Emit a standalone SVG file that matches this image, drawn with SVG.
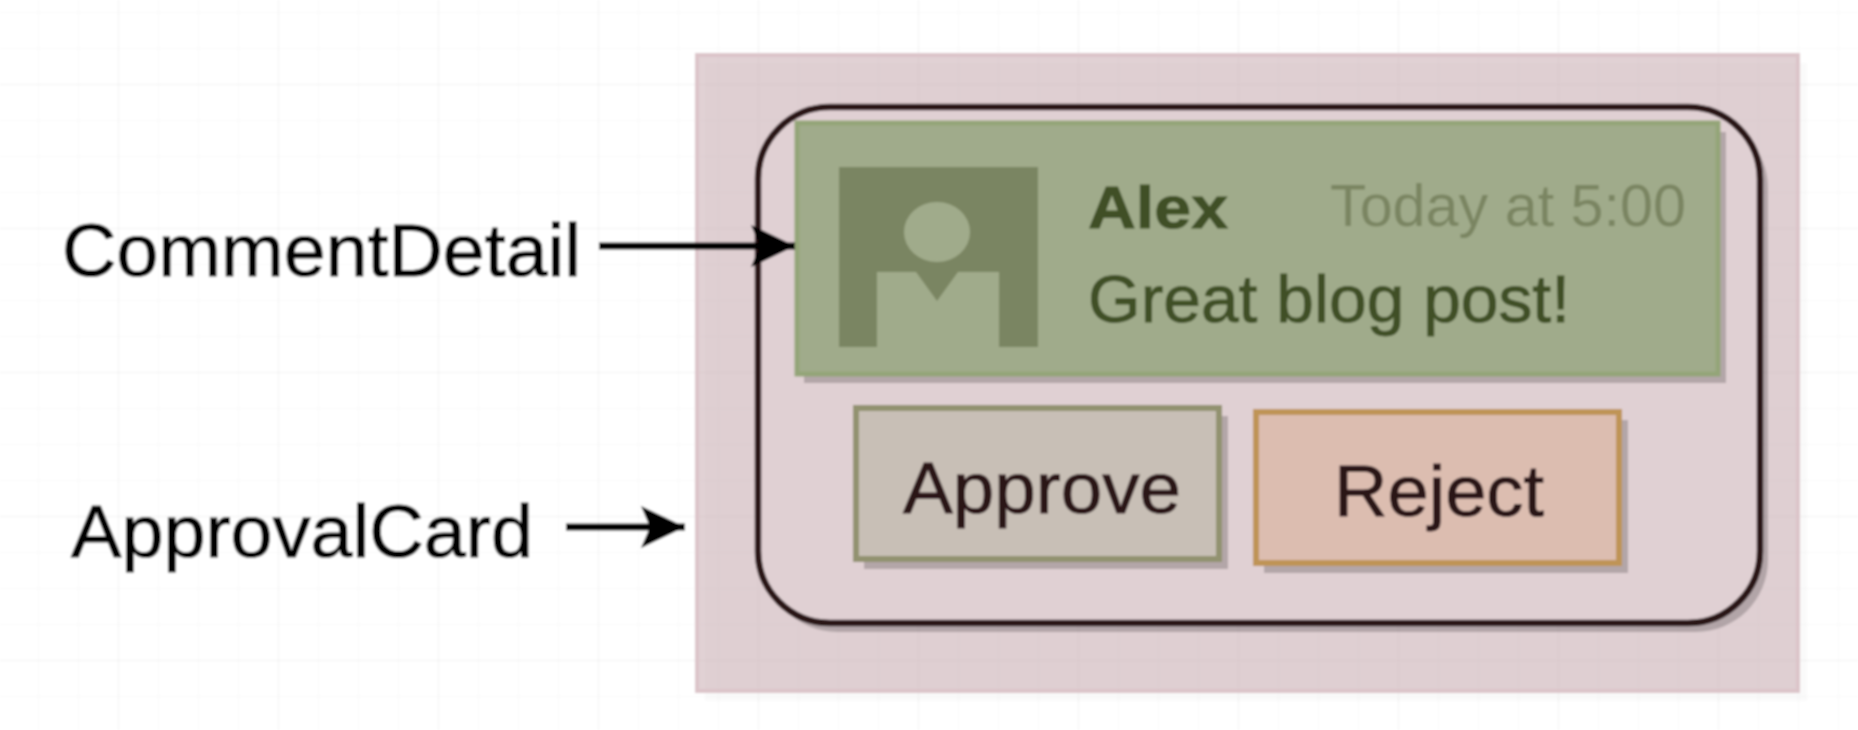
<svg xmlns="http://www.w3.org/2000/svg" width="1858" height="730" viewBox="0 0 1858 730">
  <defs>
    <pattern id="minor" width="40" height="36" patternUnits="userSpaceOnUse" x="-1" y="13">
      <path d="M40 0V36M0 36H40" fill="none" stroke="#f8f8f8" stroke-width="1.5"/>
    </pattern>
    <pattern id="major" width="160" height="144" patternUnits="userSpaceOnUse" x="-41" y="-59">
      <path d="M160 0V144M0 144H160" fill="none" stroke="#f0f0f0" stroke-width="1.5"/>
    </pattern>
    <filter id="soft" x="0" y="0" width="1858" height="730" filterUnits="userSpaceOnUse">
      <feGaussianBlur stdDeviation="1.3"/>
    </filter>
    <marker id="head" markerUnits="userSpaceOnUse" markerWidth="46" markerHeight="44" refX="44" refY="21" orient="auto">
      <path d="M0 0L44 21L0 42L9 21Z" fill="#000"/>
    </marker>
  </defs>
  <style>
    text { font-family: "Liberation Sans", Arial, sans-serif; stroke-width: 0.9; }
    .label { font-size: 74px; fill: #000; stroke: #000; }
    .btn { font-size: 72px; fill: #2a1218; stroke: #2a1218; }
    .green { fill: #3f4f25; stroke: #3f4f25; }
    .shadow { fill: #000; fill-opacity: 0.2; }
    .conn { fill: none; stroke: #000; stroke-width: 7; marker-end: url(#head); }
  </style>
  <g filter="url(#soft)">
    <rect width="1858" height="730" fill="#fff"/>
    <rect width="1858" height="730" fill="url(#minor)"/>
    <rect width="1858" height="730" fill="url(#major)"/>

    <g id="ApprovalCard">
      <rect x="705" y="63" width="1102" height="638" fill="#000" fill-opacity="0.02"/>
      <rect x="697" y="55" width="1101" height="636" fill="#c8abb0" fill-opacity="0.55" stroke="#dcc4c9" stroke-width="4"/>
      <text class="label" x="71" y="557" textLength="462" lengthAdjust="spacingAndGlyphs">ApprovalCard</text>
    </g>

    <g id="Card">
      <rect class="shadow" x="765" y="116" width="1003" height="516" rx="72" ry="72"/>
      <rect x="758" y="107" width="1002" height="516" rx="72" ry="72" fill="#e0d0d3" stroke="#2a1218" stroke-width="6.5"/>
    </g>

    <g id="CommentDetail">
      <rect class="shadow" x="804" y="132" width="922" height="251"/>
      <rect x="797" y="123" width="921" height="251" fill="#a0ab8b" stroke="#94a578" stroke-width="5"/>
      <path d="M839 167H1038V347H999V272H958L937 301L916 272H877V347H839Z" fill="#7a8562"/>
      <ellipse cx="937" cy="232" rx="33" ry="30" fill="#a0ab8b"/>
      <text class="green" x="1088" y="228" font-size="60" font-weight="700" textLength="140" lengthAdjust="spacingAndGlyphs">Alex</text>
      <text x="1330" y="226" font-size="60" fill="#7a8562" textLength="356" lengthAdjust="spacingAndGlyphs">Today at 5:00</text>
      <text class="green" x="1088" y="322" font-size="66" textLength="482" lengthAdjust="spacingAndGlyphs">Great blog post!</text>
      <text class="label" x="62" y="276" textLength="519" lengthAdjust="spacingAndGlyphs">CommentDetail</text>
    </g>

    <g id="Approve">
      <rect class="shadow" x="864" y="416" width="364" height="153"/>
      <rect x="856" y="408" width="363" height="151" fill="#c8bfb6" stroke="#92926f" stroke-width="6"/>
      <text class="btn" x="903" y="513" textLength="278" lengthAdjust="spacingAndGlyphs">Approve</text>
    </g>

    <g id="Reject">
      <rect class="shadow" x="1264" y="420" width="364" height="153"/>
      <rect x="1256" y="412" width="363" height="151" fill="#dcbdb0" stroke="#bf9456" stroke-width="6"/>
      <text class="btn" x="1334" y="516" textLength="210" lengthAdjust="spacingAndGlyphs">Reject</text>
    </g>

    <g id="connectors">
      <path class="conn" d="M599 246H795"/>
      <path class="conn" d="M566 527H685"/>
    </g>
  </g>
</svg>
